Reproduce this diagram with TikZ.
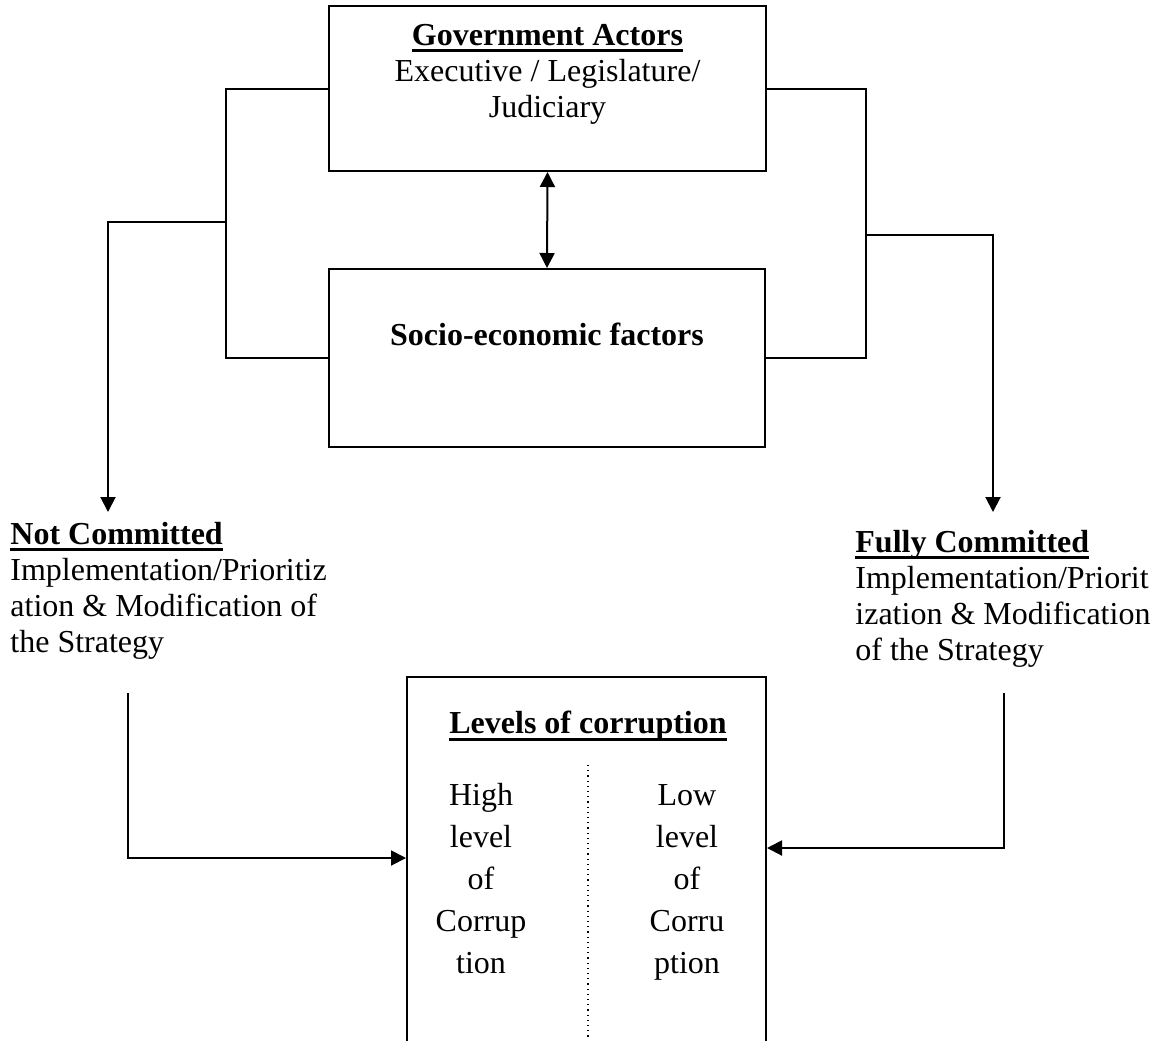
\documentclass[tikz,border=0pt]{standalone}
\usepackage{fontspec}
\setmainfont{Liberation Serif}
\usetikzlibrary{arrows.meta,positioning}
\newcommand{\heading}[1]{\setbox0\hbox{\textbf{#1}}\leavevmode\rlap{\vrule height -1.8pt depth 3.3pt width \wd0}\box0}
\tikzset
{
    framebox/.style   = {rectangle, draw=black, line width=1pt, inner sep=0pt},
    boxtext/.style    = {inner sep=0pt, align=center, anchor=north, font=\fontsize{16}{18}\selectfont},
    sidetext/.style   = {inner sep=0pt, align=left, anchor=north west, font=\fontsize{16}{18}\selectfont},
    columntext/.style = {inner sep=0pt, align=center, anchor=north, font=\fontsize{16}{21}\selectfont},
    link/.style       = {line width=1pt},
    arrowlink/.style  = {line width=1pt, -{Triangle[length=7.5pt,width=7.5pt]}},
    bothlink/.style   = {line width=1pt, {Triangle[length=7.5pt,width=7.5pt]}-{Triangle[length=7.5pt,width=7.5pt]}}
}
\begin{document}
\begin{tikzpicture}[x=0.5pt, y=-0.5pt]
	\useasboundingbox (0,0) rectangle (1157,1040);
	% boxes
	\node[framebox, minimum width=218.5pt, minimum height=82.5pt] (gov) at (547.5,88.5) {};
	\node[framebox, minimum width=218pt, minimum height=89pt] (socio) at (547,358) {};
	\node[framebox, minimum width=179.5pt, minimum height=186.5pt] (levels) at (586.5,863.5) {};
	% texts
	\node[boxtext] (govtext) at (547.5,24) {\heading{Government Actors}\\Executive / Legislature/\\Judiciary};
	\node[boxtext, font=\fontsize{16}{18}\selectfont\bfseries] (sociotext) at (547,323) {Socio-economic factors};
	\node[sidetext] (notcom) at (10,522) {\heading{Not Committed}\\Implementation/Prioritiz\\ation \& Modification of\\the Strategy};
	\node[sidetext] (fullcom) at (855,530) {\heading{Fully Committed}\\Implementation/Priorit\\ization \& Modification\\of the Strategy};
	\node[boxtext] (levtitle) at (588,711) {\heading{Levels of corruption}};
	\node[columntext] (high) at (481,783) {High\\level\\of\\Corrup\\tion};
	\node[columntext] (low) at (687,784) {Low\\level\\of\\Corru\\ption};
	% connectors
	\coordinate (lbus) at (226,222);
	\coordinate (rbus) at (866,235);
	\coordinate (ltip) at (108,512);
	\coordinate (rtip) at (993,512);
	\coordinate (lfoot) at (128,693);
	\coordinate (rfoot) at (1004,693);
	\draw[link] (gov.west) -| (lbus) |- (socio.west);
	\draw[link] (gov.east) -| (rbus) |- (socio.east);
	\draw[arrowlink] (lbus) -| (ltip);
	\draw[arrowlink] (rbus) -| (rtip);
	\draw[bothlink] (gov.south) -- (socio.north);
	\draw[arrowlink] (lfoot) |- ([yshift=2.75pt]levels.west);
	\draw[arrowlink] (rfoot) |- ([yshift=7.75pt]levels.east);
	\draw[dotted, line width=0.6pt] ([yshift=-44.5pt,xshift=0.75pt]levels.north) -- ([xshift=0.75pt]levels.south);
\end{tikzpicture}
\end{document}
